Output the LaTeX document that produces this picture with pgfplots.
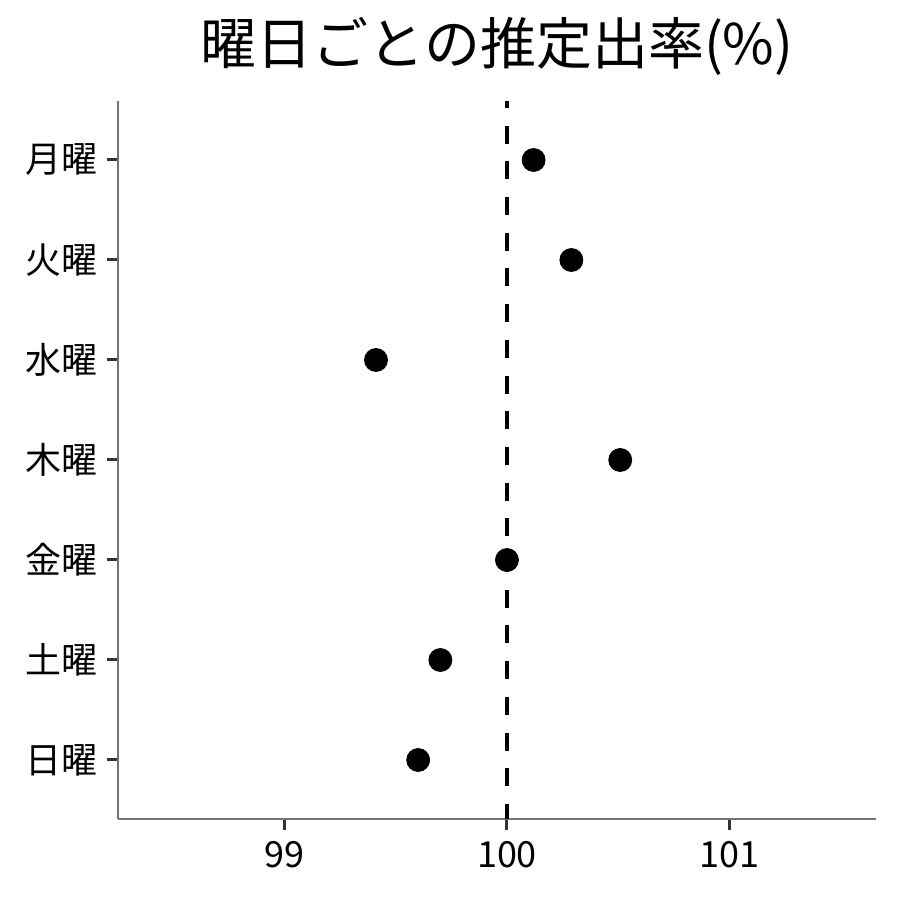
\documentclass[border=0pt]{standalone}
\usepackage{fontspec}
\setmainfont{Noto Sans CJK JP}
\usepackage{pgfplots}
\pgfplotsset{compat=1.18}

\begin{document}
\begin{tikzpicture}
\useasboundingbox (0,0) rectangle (450pt,450pt);
\begin{axis}[
    at={(59pt,40.5pt)}, anchor=south west,
    scale only axis,
    width=379pt, height=359pt,
    xmin=98.248, xmax=101.662,
    ymin=0.41, ymax=7.59,
    axis x line*=bottom, axis y line*=left,
    axis line style={draw=black!55, line width=0.75pt, -},
    xtick={99,100,101},
    ytick={1,...,7},
    yticklabels={日曜,土曜,金曜,木曜,水曜,火曜,月曜},
    tick align=outside,
    major tick length=5.5pt,
    tick style={draw=black!80, line width=1.5pt},
    ticklabel style={font=\fontsize{18}{21}\selectfont},
    /pgf/number format/assume math mode=true,
    xticklabel style={yshift=-2pt},
    yticklabel style={xshift=-1pt},
    clip=false,
]
\addplot[black, line width=2pt, dash pattern=on 9pt off 8.85pt, dash phase=5.5pt] coordinates {(100,7.59) (100,0.41)};
\addplot[only marks, mark=*, mark size=5.75pt, black] coordinates {
    (100.12,7) (100.29,6) (99.41,5) (100.51,4) (100.00,3) (99.70,2) (99.60,1)
};
\end{axis}
\node at (248.5pt,427pt) {\fontsize{28}{33}\selectfont 曜日ごとの推定出率(\%)};
\end{tikzpicture}
\end{document}
